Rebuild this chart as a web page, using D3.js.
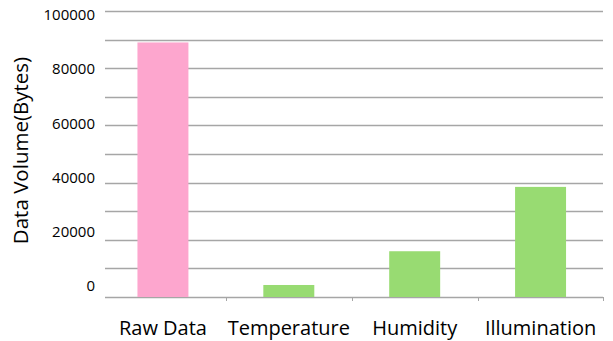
<!DOCTYPE html>
<html>
<head>
<meta charset="utf-8">
<script src="https://cdn.jsdelivr.net/npm/d3@7/dist/d3.min.js"></script>
<style>
  html, body { margin: 0; padding: 0; background: #fff; }
  svg { display: block; }
  text { font-family: "Open Sans", sans-serif; fill: #000; }
</style>
</head>
<body>
<script>
const categories = ["Raw Data", "Temperature", "Humidity", "Illumination"];
const values = [89000, 4200, 16000, 38500];
const barColors = ["#FDA6CE", "#98DB72", "#98DB72", "#98DB72"];
const yTickLabels = [0, 20000, 40000, 60000, 80000, 100000];
const yAxisTitle = "Data Volume(Bytes)";

const W = 613, H = 341;
const svg = d3.select("body").append("svg").attr("width", W).attr("height", H);

const x = d3.scaleBand().domain(categories).range([100, 603.5]).padding(0);
const y = d3.scaleLinear().domain([0, 100000]).range([297, 11]);
const yLab = d3.scaleLinear().domain([0, 100000]).range([286, 15]);
const gridLeft = 105, gridRight = 603;

// gridlines
svg.append("g").selectAll("line")
  .data(y.ticks(10))
  .join("line")
  .attr("x1", gridLeft).attr("x2", gridRight)
  .attr("y1", d => Math.round(y(d)) + 0.5).attr("y2", d => Math.round(y(d)) + 0.5)
  .attr("stroke", "#A6A6A6").attr("stroke-width", 1.3);

// category ticks at band boundaries
svg.append("g").selectAll("line")
  .data(categories.slice(1).map(c => x(c)).concat([x.range()[1] - 0.5]))
  .join("line")
  .attr("x1", d => Math.round(d) + 0.5).attr("x2", d => Math.round(d) + 0.5)
  .attr("y1", Math.round(y(0))).attr("y2", Math.round(y(0)) + 4)
  .attr("stroke", "#A6A6A6").attr("stroke-width", 1);

// bars
const bw = x.bandwidth();
svg.append("g").selectAll("rect")
  .data(categories)
  .join("rect")
  .attr("x", (d) => x(d) + bw * 0.2975)
  .attr("width", bw * 0.405)
  .attr("y", (d, i) => y(values[i]))
  .attr("height", (d, i) => y(0) - y(values[i]))
  .attr("fill", (d, i) => barColors[i]);

// y tick labels
svg.append("g").selectAll("text")
  .data(yTickLabels)
  .join("text")
  .attr("x", 95)
  .attr("y", d => yLab(d))
  .attr("dy", "0.35em")
  .attr("text-anchor", "end")
  .attr("font-size", 15)
  .text(d => d);

// x labels
svg.append("g").selectAll("text")
  .data(categories)
  .join("text")
  .attr("x", d => x(d) + bw / 2)
  .attr("y", 335)
  .attr("text-anchor", "middle")
  .attr("font-size", 20)
  .text(d => d);

// y axis title
svg.append("text")
  .attr("transform", "translate(28,150.5) rotate(-90)")
  .attr("text-anchor", "middle")
  .attr("font-size", 20.5)
  .text(yAxisTitle);
</script>
</body>
</html>
